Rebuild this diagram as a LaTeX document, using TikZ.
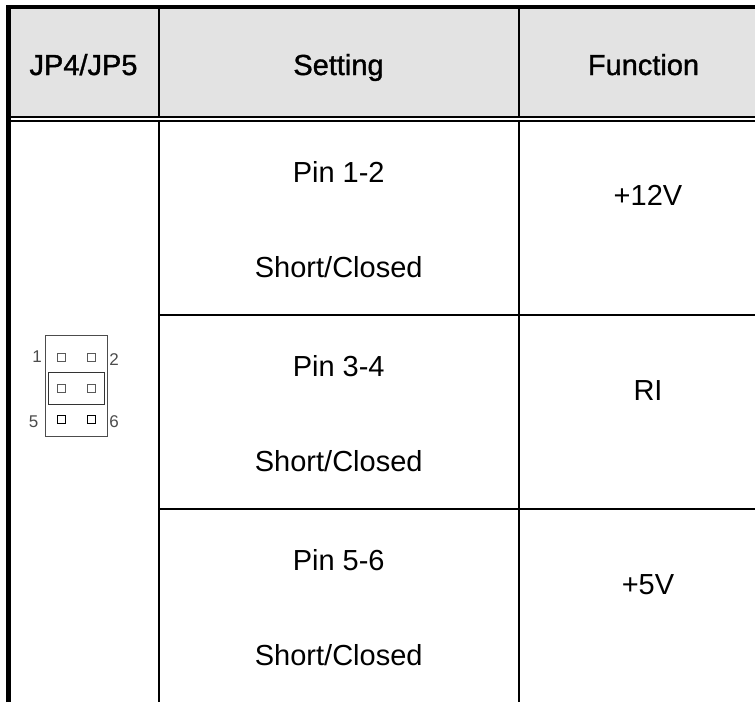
\documentclass[tikz,border=0pt]{standalone}
\usepackage{fontspec}
\setmainfont{Liberation Sans}
\newfontfamily\hdfont[FakeBold=1.2]{Liberation Sans}
\begin{document}
\begin{tikzpicture}[x=1pt,y=-1pt,
  hd/.style={font=\hdfont\fontsize{29}{32}\selectfont,text=black,anchor=base,inner sep=0pt},
  bd/.style={font=\fontsize{29}{32}\selectfont,text=black,anchor=base,inner sep=0pt},
  pn/.style={font=\fontsize{17}{18}\selectfont,text=black!70,anchor=base,inner sep=0pt},
  rule/.style={line width=2pt},
  pad/.style={draw=black!65,line width=1pt,minimum size=8pt,inner sep=0pt},
  padd/.style={draw=black,line width=1.2pt,minimum size=8pt,inner sep=0pt}]
\useasboundingbox (0,0) rectangle (755,702);
\fill[white] (0,0) rectangle (755,702);
\fill[black!11] (10,9) rectangle (755,116);
\draw[line width=4.5pt] (8.4,702) -- (8.4,7.2) -- (755,7.2);
\draw[rule] (10,117) -- (755,117);
\draw[rule] (10,121) -- (755,121);
\draw[rule] (159,9) -- (159,116.5);
\draw[rule] (159,121) -- (159,702);
\draw[rule] (518.7,9) -- (518.7,116.5);
\draw[rule] (518.7,121) -- (518.7,702);
\draw[rule] (159,315) -- (755,315);
\draw[rule] (159,509) -- (755,509);
\node[hd] (h1) at (83.5,75) {JP4/JP5};
\node[hd] (h2) at (338.5,75) {Setting};
\node[hd] (h3) at (643.5,75) {Function};
\node[bd] (a1) at (338.7,182) {Pin 1-2};
\node[bd] (b1) at (338.7,277.7) {Short/Closed};
\node[bd] (a2) at (338.7,376) {Pin 3-4};
\node[bd] (b2) at (338.7,471.7) {Short/Closed};
\node[bd] (a3) at (338.7,570) {Pin 5-6};
\node[bd] (b3) at (338.7,665.7) {Short/Closed};
\node[bd] (f1) at (648,205.7) {+12V};
\node[bd] (f2) at (648,400) {RI};
\node[bd] (f3) at (648,594) {+5V};
\draw[line width=1pt,black!70] (45,335) rectangle (107,436);
\draw[line width=1pt,black!80] (48.5,372) rectangle (104.5,404);
\node[pad] (p1) at (61.5,357) {};
\node[pad] (p2) at (91.5,357) {};
\node[pad] (p3) at (61.5,388) {};
\node[pad] (p4) at (91.5,388) {};
\node[padd] (p5) at (61.5,419.5) {};
\node[padd] (p6) at (91.5,419.5) {};
\node[pn] (n1) at (37,362) {1};
\node[pn] (n2) at (114,365) {2};
\node[pn] (n5) at (33.5,427) {5};
\node[pn] (n6) at (114,427) {6};
\end{tikzpicture}
\end{document}
